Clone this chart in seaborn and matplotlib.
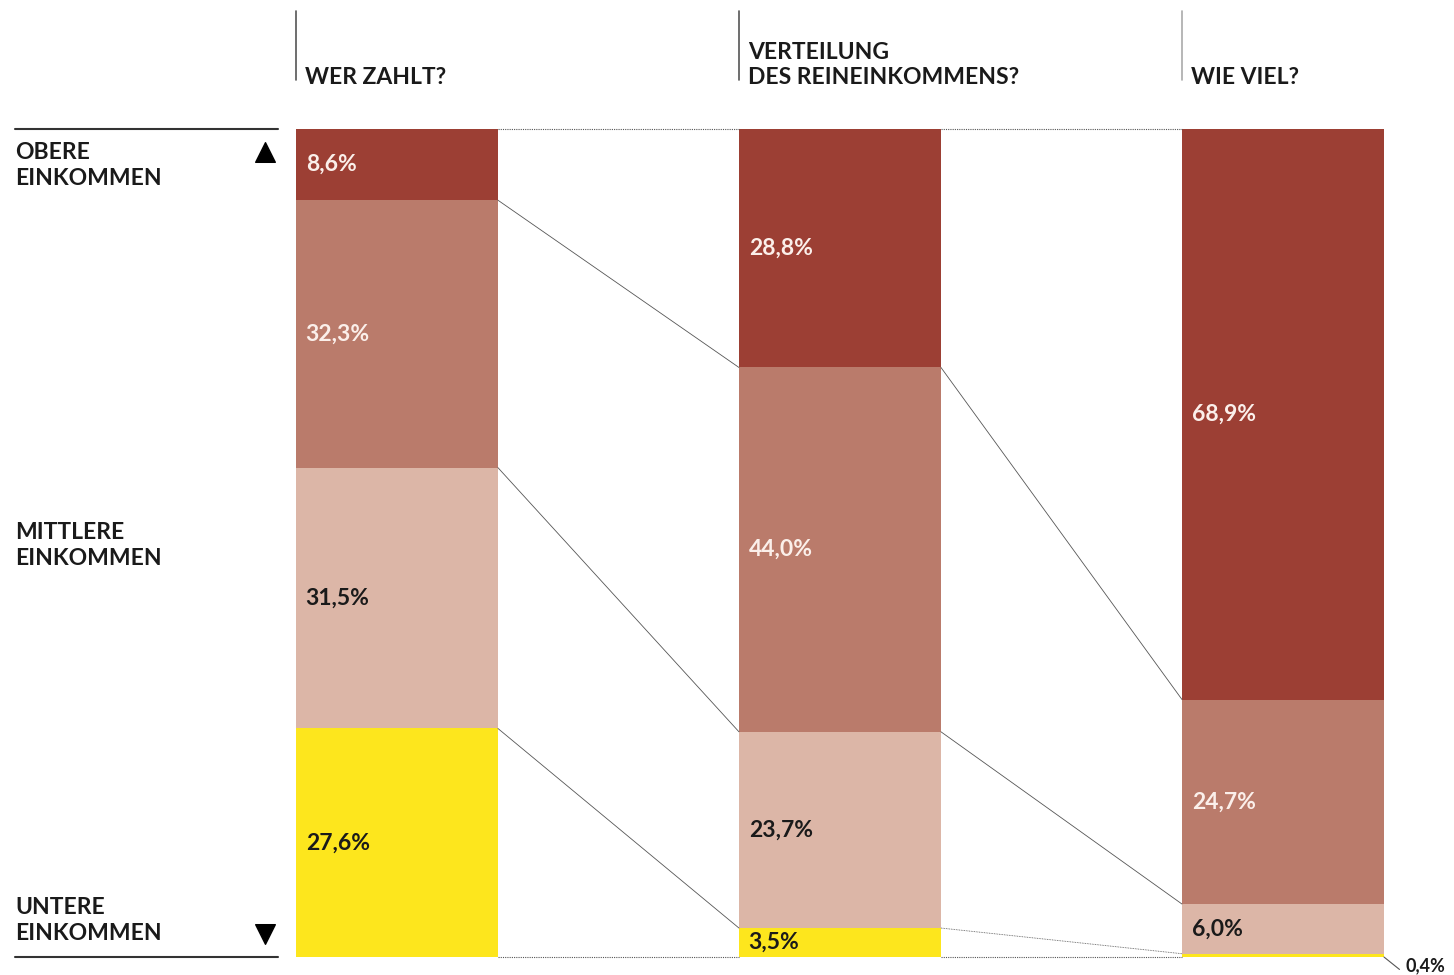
import numpy as np
import pandas as pd
import seaborn as sns
import matplotlib.pyplot as plt

# columns and segment shares (top to bottom: obere -> untere einkommen)
columns = ["WER ZAHLT?", "VERTEILUNG\nDES REINEINKOMMENS?", "WIE VIEL?"]
seg_names = ["top", "upper_mid", "lower_mid", "bottom"]
wer_zahlt = [8.6, 32.3, 31.5, 27.6]
verteilung = [28.8, 44.0, 23.7, 3.5]
wie_viel = [68.9, 24.7, 6.0, 0.4]
labels_wer = ["8,6%", "32,3%", "31,5%", "27,6%"]
labels_vert = ["28,8%", "44,0%", "23,7%", "3,5%"]
labels_wie = ["68,9%", "24,7%", "6,0%", "0,4%"]

colors = ["#9c3f34", "#ba7b6b", "#dcb6a7", "#fde61d"]
text_colors = ["#fbefea", "#fbefea", "#1a1a1a", "#1a1a1a"]

values = [wer_zahlt, verteilung, wie_viel]
labels = [labels_wer, labels_vert, labels_wie]

df = pd.DataFrame(values, columns=seg_names)
cum = df[seg_names].cumsum(axis=1)

sns.set_style("white")
plt.rcParams["font.family"] = ["Lato", "DejaVu Sans"]

fig = plt.figure(figsize=(14.54, 9.75), dpi=100)
ax = fig.add_axes([0, 0, 1, 1])

bw = 202 / 443
# overlapping cumulative bars, drawn largest first (y axis runs downward)
for i in range(3, -1, -1):
    d = pd.DataFrame({"col": [0, 1, 2], "v": cum[seg_names[i]].values})
    sns.barplot(data=d, x="col", y="v", color=colors[i], width=bw,
                saturation=1, native_scale=True, ax=ax, linewidth=0)

ax.set_xlim(-0.896, 2.386)
ax.set_ylim(102.17, -15.58)
ax.axis("off")

# connector lines between bars
lc = "#555555"
for c in range(2):
    x0 = c + bw / 2
    x1 = c + 1 - bw / 2
    ax.plot([x0, x1], [0, 0], color=lc, lw=0.8, ls=(0, (1, 1)))
    ax.plot([x0, x1], [100, 100], color=lc, lw=0.8, ls=(0, (1, 1)))
    for i in range(3):
        y0 = cum.iloc[c, i]
        y1 = cum.iloc[c + 1, i]
        ls = "-" if i < 2 or c == 0 else (0, (1, 1))
        ax.plot([x0, x1], [y0, y1], color=lc, lw=0.6, ls=ls)

# percentage labels
for c in range(3):
    start = 0
    for i in range(4):
        v = values[c][i]
        if v >= 2:
            ax.text(c - bw / 2 + 0.022, start + v / 2, labels[c][i],
                    color=text_colors[i], fontsize=16.5, fontweight="bold",
                    va="center", ha="left")
        start += v
# tiny 0,4% label outside
ax.plot([2 + bw / 2, 2 + bw / 2 + 0.035], [100, 101.5], color=lc, lw=0.8)
ax.text(2 + bw / 2 + 0.048, 101.0, labels_wie[3], fontsize=13,
        fontweight="bold", color="#1a1a1a", va="center", ha="left")

# column headers with vertical rules
for c in range(3):
    xl = c - bw / 2
    ax.plot([xl, xl], [-14.3, -5.9], color="#555555" if c < 2 else "#aaaaaa",
            lw=1.2)
    ax.text(xl + 0.02, -5.4, columns[c], fontsize=16.5, fontweight="bold",
            color="#1a1a1a", va="baseline", ha="left", linespacing=1.25)

# left side labels
lx = (15 - 397) / 443
ax.plot([lx, (278 - 397) / 443], [0, 0], color="#333333", lw=1.5)
ax.plot([lx, (278 - 397) / 443], [100, 100], color="#333333", lw=1.5)
side = [("OBERE\nEINKOMMEN", 4.4), ("MITTLERE\nEINKOMMEN", 50.3),
        ("UNTERE\nEINKOMMEN", 95.6)]
for txt, y in side:
    ax.text(lx, y, txt, fontsize=16.5, fontweight="bold", color="#1a1a1a",
            va="center", ha="left", linespacing=1.25)
tx = (265 - 397) / 443
ax.scatter([tx], [2.8], marker="^", s=200, color="black")
ax.scatter([tx], [97.2], marker="v", s=200, color="black")

fig.savefig("out.png", dpi=100)
